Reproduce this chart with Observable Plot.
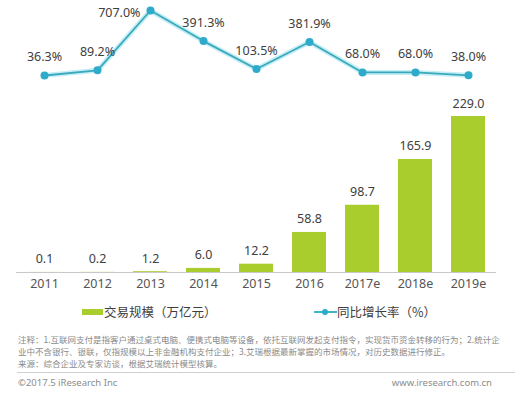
<!DOCTYPE html>
<html><head><meta charset="utf-8">
<script src="https://cdn.jsdelivr.net/npm/d3@7"></script>
<script src="https://cdn.jsdelivr.net/npm/@observablehq/plot@0.6"></script>
<style>
body{margin:0;background:#fff;font-family:"Noto Sans","Noto Sans CJK SC",sans-serif;}
#wrap{position:relative;width:522px;height:394px;overflow:hidden;}
#bars,#line{position:absolute;left:0;top:0;}
.abs{position:absolute;white-space:nowrap;}
#legend{color:#404040;font-size:12.5px;font-family:"Noto Sans CJK SC",sans-serif;}
.note{left:18px;font-size:8.5px;line-height:12.3px;height:12.3px;color:#8a8a8a;font-family:"Noto Sans CJK SC",sans-serif;}
#sep{left:17px;top:372px;width:498px;height:1px;background:#d0d0d0;}
.foot{top:376px;font-size:9.5px;color:#8c8c8c;}
</style></head>
<body>
<div id="wrap">
  <div id="bars"></div>
  <div id="line"></div>
  <div id="legend">
    <div class="abs" style="left:82px;top:309px;width:21px;height:6px;background:#a9cd2c"></div>
    <div class="abs" style="left:104px;top:302px;">交易规模（万亿元）</div>
    <div class="abs" style="left:314px;top:311px;width:23px;height:2px;background:#41b4c8"></div>
    <div class="abs" style="left:322px;top:309px;width:6px;height:6px;border-radius:50%;background:#2eaacb"></div>
    <div class="abs" style="left:337px;top:302px;">同比增长率（%）</div>
  </div>
  <div id="notes"></div>
  <div id="sep" class="abs"></div>
  <div class="abs foot" style="left:18px;">©2017.5 iResearch Inc</div>
  <div class="abs foot" style="right:30px;">www.iresearch.com.cn</div>
</div>
<script>
const years = ["2011","2012","2013","2014","2015","2016","2017e","2018e","2019e"];
const volume = [0.1, 0.2, 1.2, 6.0, 12.2, 58.8, 98.7, 165.9, 229.0];
const growth = [36.3, 89.2, 707.0, 391.3, 103.5, 381.9, 68.0, 68.0, 38.0];
const noteLines = [
  "注释：1.互联网支付是指客户通过桌式电脑、便携式电脑等设备，依托互联网发起支付指令，实现货币资金转移的行为；2.统计企",
  "业中不含银行、银联，仅指规模以上非金融机构支付企业；3.艾瑞根据最新掌握的市场情况，对历史数据进行修正。",
  "来源：综合企业及专家访谈，根据艾瑞统计模型核算。"
];

const data = years.map((y, i) => ({year: y, volume: volume[i], growth: growth[i]}));
const font = '"Noto Sans","Noto Sans CJK SC",sans-serif';
const xOpts = {domain: years, paddingInner: 0.35, paddingOuter: 0.14};

const bars = Plot.plot({
  width: 522, height: 300,
  marginLeft: 16, marginRight: 26, marginTop: 116, marginBottom: 28,
  style: {fontFamily: font, background: "transparent", overflow: "visible"},
  x: {...xOpts, label: null, tickSize: 0, tickPadding: 7},
  y: {domain: [0, d3.max(volume)], axis: null},
  marks: [
    Plot.barY(data, {x: "year", y: "volume", fill: "#a9cd2c"}),
    Plot.ruleY([0], {stroke: "#c8c8c8", strokeWidth: 1}),
    Plot.text(data, {x: "year", y: "volume", text: d => d.volume.toFixed(1), dy: -13, fill: "#404040", fontSize: 12.5}),
    Plot.axisX({tickSize: 0, tickPadding: 7, fontSize: 12.5, label: null})
  ]
});
bars.querySelectorAll('[aria-label="x-axis tick label"]').forEach(g => g.setAttribute("fill", "#555555"));
document.getElementById("bars").appendChild(bars);

const line = Plot.plot({
  width: 522, height: 90,
  marginLeft: 16, marginRight: 26, marginTop: 10, marginBottom: 11.5,
  style: {fontFamily: font, background: "transparent", overflow: "visible"},
  x: {...xOpts, axis: null},
  y: {domain: [0, d3.max(growth)], axis: null},
  marks: [
    Plot.line(data, {x: "year", y: "growth", stroke: "#9fe3f0", strokeWidth: 5, strokeOpacity: 0.6}),
    Plot.line(data, {x: "year", y: "growth", stroke: "#3aa9bb", strokeWidth: 1.8}),
    Plot.dot(data, {x: "year", y: "growth", r: 4, fill: "#2eaacb"}),
    Plot.text(data, {filter: d => d.year !== "2013", x: "year", y: "growth", text: d => d.growth.toFixed(1) + "%", dy: -18, fill: "#404040", fontSize: 12.5}),
    Plot.text(data, {filter: d => d.year === "2013", x: "year", y: "growth", text: d => d.growth.toFixed(1) + "%", dx: -10, dy: 2, textAnchor: "end", fill: "#404040", fontSize: 12.5})
  ]
});
document.getElementById("line").appendChild(line);

const notesEl = document.getElementById("notes");
noteLines.forEach((s, i) => {
  const d = document.createElement("div");
  d.className = "abs note";
  d.style.top = (332.6 + i * 12.3) + "px";
  d.textContent = s;
  notesEl.appendChild(d);
});
</script>
</body></html>
